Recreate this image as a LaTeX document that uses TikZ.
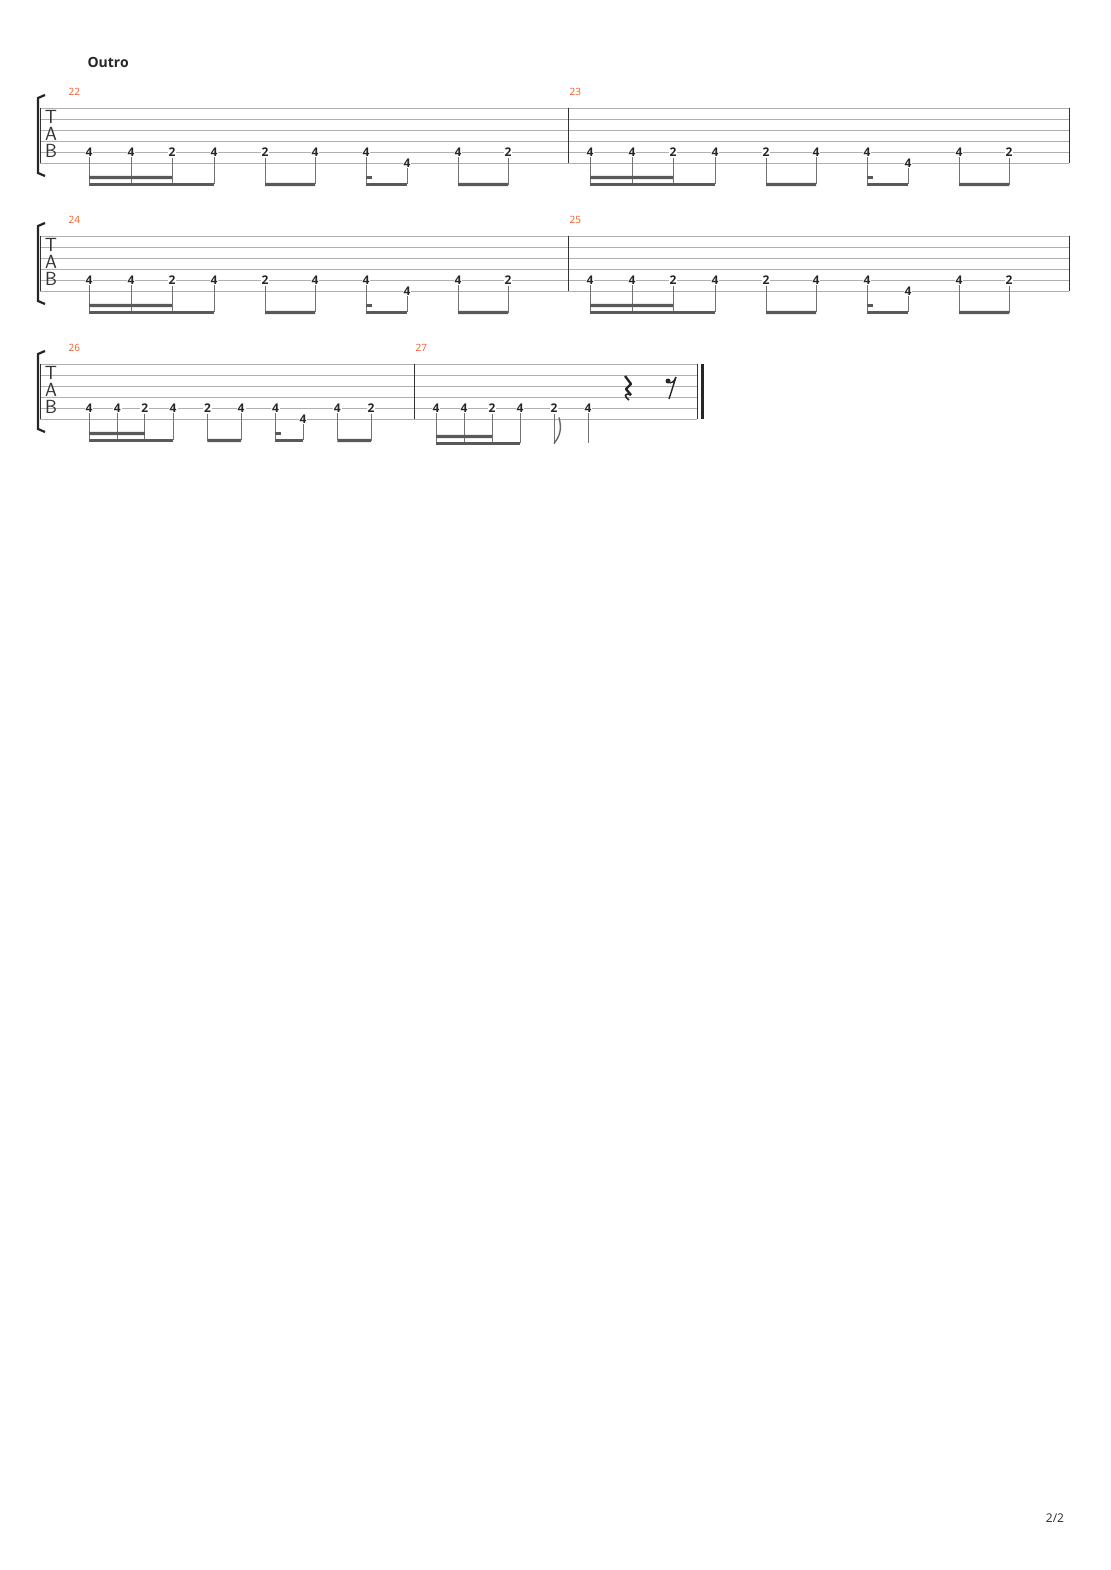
\documentclass[tikz,border=0pt]{standalone}
\usepackage{fontspec}
\setmainfont{Open Sans}
\usetikzlibrary{calc}
\definecolor{barnum}{RGB}{240,90,40}
\definecolor{staffgray}{RGB}{175,175,175}
\tikzset{
  fret/.style={font=\fontsize{12}{12}\selectfont\bfseries, fill=white, inner sep=1pt, text=black!85},
  stem/.style={draw=black!55, line width=0.9pt},
  beam/.style={draw=black!65, line width=3.2pt},
  staffline/.style={draw=staffgray, line width=0.6pt},
  tabletter/.style={font=\sffamily\fontsize{19}{19}\selectfont, black!80}
}
% \riff{x0}{y0}{scale}{prefix}
\newcommand{\riff}[4]{%
 \foreach \o/\f/\l [count=\i] in {0/4/5,42/4/5,83/2/5,125/4/5,176/2/5,226/4/5,277/4/5,318/4/6,369/4/5,419/2/5} {
  \node[fret] (#4n\i) at ({#1+#3*\o},{#2+11*(\l-1)}) {\f};
  \draw[stem] (#4n\i.south) -- ++(0,{78-11*(\l-1)-7}) coordinate (#4s\i);
 }
 \draw[beam] (#4s1) -- (#4s4);
 \draw[beam] ($(#4s1)+(0,-7)$) -- ($(#4s3)+(0,-7)$);
 \draw[beam] (#4s5) -- (#4s6);
 \draw[beam] (#4s7) -- (#4s8);
 \draw[beam] ($(#4s7)+(0,-7)$) -- ++(6,0);
 \draw[beam] (#4s9) -- (#4s10);
}
% \staff{y0}{xend}
\newcommand{\staff}[2]{%
 \foreach \k in {0,...,5} \draw[staffline] (40,{#1+11*\k}) -- (#2,{#1+11*\k});
 \draw[line width=0.8pt, black!80] (40,#1) -- (40,{#1+55});
 \draw[line width=2.2pt, black!85] (45,{#1-13}) -- (38,{#1-10}) -- (38,{#1+65}) -- (45,{#1+68});
 \node[tabletter] at (51,{#1+9}) {T};
 \node[tabletter] at (51,{#1+26}) {A};
 \node[tabletter] at (51,{#1+43}) {B};
}
\begin{document}
\begin{tikzpicture}[x=1pt,y=-1pt]
\useasboundingbox (0,0) rectangle (1110,1570);
\node[font=\fontsize{14}{14}\selectfont\bfseries, text=black!85, anchor=west] (title) at (84,62) {Outro};
\tikzset{num/.style={font=\fontsize{10}{10}\selectfont, text=barnum, anchor=west}}
% system 1
\staff{108}{1069}
\draw[line width=0.8pt, black!80] (568,108) -- (568,163);
\draw[line width=0.8pt, black!80] (1069,108) -- (1069,163);
\node[num] (m22) at (65,92) {22};
\node[num] (m23) at (566,92) {23};
\riff{89}{108}{1}{a}
\riff{590}{108}{1}{b}
% system 2
\staff{236}{1069}
\draw[line width=0.8pt, black!80] (568,236) -- (568,291);
\draw[line width=0.8pt, black!80] (1069,236) -- (1069,291);
\node[num] (m24) at (65,220) {24};
\node[num] (m25) at (566,220) {25};
\riff{89}{236}{1}{c}
\riff{590}{236}{1}{d}
% system 3
\staff{364}{697}
\draw[line width=0.8pt, black!80] (414,364) -- (414,419);
\draw[line width=0.8pt, black!80] (697,364) -- (697,419);
\draw[line width=3.5pt, black!85] (702.5,364) -- (702.5,419);
\node[num] (m26) at (65,348) {26};
\node[num] (m27) at (412,348) {27};
\riff{89}{364}{0.673}{e}
\foreach \x/\f [count=\i] in {436/4,464/4,492/2,520/4,554/2,588/4} {
  \node[fret] (f\i) at (\x,408) {\f};
  \draw[stem] (f\i.south) -- ++(0,30) coordinate (fs\i);
}
\draw[beam] (fs1) -- (fs4);
\draw[beam] ($(fs1)+(0,-7)$) -- ($(fs3)+(0,-7)$);
\draw[black!60, line width=1.4pt] (fs5) .. controls ($(fs5)+(6,-8)$) and ($(fs5)+(8,-14)$) .. ($(fs5)+(5,-26)$);
% rests
\draw[black!85, line width=2.4pt, line join=round] (625,376) -- (631,384) -- (626,389) -- (631,395);
\draw[black!85, line width=1.6pt] (631,395) .. controls (624,392) and (624,397) .. (629,400);
\fill[black!85] (668,381) circle (2.5);
\draw[black!85, line width=1.4pt] (668,382) .. controls (671,384) and (674,382) .. (676,377) -- (669,399);
% page number
\node[font=\fontsize{12}{12}\selectfont, text=black!85] (page) at (1055,1518) {2/2};
\end{tikzpicture}
\end{document}
